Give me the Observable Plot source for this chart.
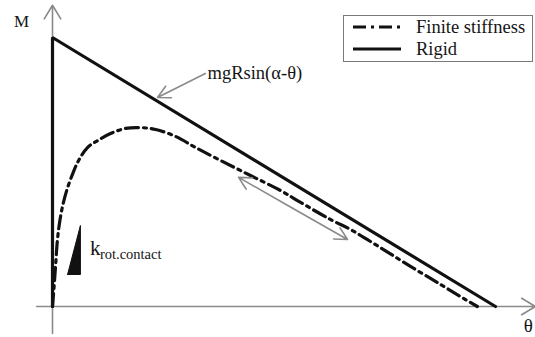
<!DOCTYPE html>
<html>
<head>
<meta charset="utf-8">
<script src="https://cdn.jsdelivr.net/npm/d3@7"></script>
<script src="https://cdn.jsdelivr.net/npm/@observablehq/plot@0.6"></script>
<style>
  html, body { margin: 0; padding: 0; background: #fff; }
  #wrap { position: relative; width: 535px; height: 337px; overflow: hidden; }
  #legend {
    position: absolute; left: 343px; top: 15px; width: 188px; height: 45px;
    border: 1.5px solid #7a7a7a; background: #fff;
    font-family: "Liberation Serif", "Times New Roman", Times, "DejaVu Serif", serif; font-size: 18.5px; color: #151515;
  }
  .row { position: absolute; left: 0; height: 22px; display: flex; align-items: center; }
  .row svg { margin-left: 9px; margin-right: 15px; }
  #wrap svg text { font-family: "Liberation Serif", "Times New Roman", Times, "DejaVu Serif", serif; }
</style>
</head>
<body>
<div id="wrap"><div id="legend"></div></div>
<script>
// θ normalised by α, M normalised by M at θ = 0
const seriesNames = ["Finite stiffness", "Rigid"];
const rigidTheta = [0, 0, 1];
const rigidM = [0, 1, 0];
const finiteTheta = [0, 0.002, 0.007, 0.011, 0.016, 0.023, 0.032, 0.045, 0.059, 0.079, 0.102, 0.131, 0.165, 0.199, 0.233, 0.278, 0.323, 0.379, 0.447, 0.515, 0.560, 0.628, 0.673, 0.740, 0.808, 0.876, 0.932, 0.959];
const finiteM = [0, 0.041, 0.152, 0.245, 0.312, 0.375, 0.431, 0.491, 0.543, 0.591, 0.617, 0.643, 0.662, 0.665, 0.658, 0.632, 0.591, 0.543, 0.487, 0.431, 0.387, 0.323, 0.286, 0.219, 0.149, 0.082, 0.026, 0];
// annotation anchors (data units)
const axisArrows = [
  {x1: 0, y1: -0.10, x2: 0, y2: 1.12},
  {x1: -0.036, y1: 0, x2: 1.09, y2: 0}
];
const labelArrow = [{x1: 0.345, y1: 0.866, x2: 0.237, y2: 0.777}];
const spanArrow = [
  {x1: 0.543, y1: 0.3645, x2: 0.420, y2: 0.480},
  {x1: 0.543, y1: 0.3645, x2: 0.666, y2: 0.249}
];
const stiffTriangleX = [0.034, 0.063, 0.063, 0.034];
const stiffTriangleY = [0.119, 0.119, 0.301, 0.119];
const labels = [
  {x: -0.07, y: 1.06, text: "M", size: 17, anchor: "middle"},
  {x: 1.074, y: -0.074, text: "θ", size: 19, anchor: "middle"},
  {x: 0.350, y: 0.866, text: "mgRsin(α-θ)", size: 18.5, anchor: "start"},
  {x: 0.0845, y: 0.215, text: "k", size: 21, anchor: "start"},
  {x: 0.107, y: 0.193, text: "rot.contact", size: 14.5, anchor: "start"}
];

const finite = finiteTheta.map((t, i) => ({theta: t, M: finiteM[i]}));
const rigid = rigidTheta.map((t, i) => ({theta: t, M: rigidM[i]}));
const tri = stiffTriangleX.map((t, i) => ({theta: t, M: stiffTriangleY[i]}));
const serif = '"Liberation Serif", "Times New Roman", Times, "DejaVu Serif", serif';

const chart = Plot.plot({
  width: 535, height: 337,
  marginLeft: 52, marginRight: 40, marginTop: 37, marginBottom: 31,
  x: {domain: [0, 1], axis: null},
  y: {domain: [0, 1], axis: null},
  style: {background: "transparent", overflow: "visible", fontFamily: serif},
  marks: [
    Plot.arrow(axisArrows, {x1: "x1", y1: "y1", x2: "x2", y2: "y2", stroke: "#8a8a8a", strokeWidth: 1.6, headLength: 15, headAngle: 62}),
    Plot.line(finite, {x: "theta", y: "M", stroke: "#111", strokeWidth: 3.2, strokeDasharray: "13,5,3,5", curve: "catmull-rom"}),
    Plot.line(rigid, {x: "theta", y: "M", stroke: "#111", strokeWidth: 3.2, strokeLinejoin: "miter"}),
    Plot.arrow(labelArrow, {x1: "x1", y1: "y1", x2: "x2", y2: "y2", stroke: "#8a8a8a", strokeWidth: 1.6, headLength: 13, headAngle: 55}),
    Plot.arrow(spanArrow, {x1: "x1", y1: "y1", x2: "x2", y2: "y2", stroke: "#8a8a8a", strokeWidth: 1.6, headLength: 13, headAngle: 55}),
    Plot.line(tri, {x: "theta", y: "M", fill: "#111", stroke: "#111", strokeWidth: 1}),
    Plot.text(labels, {x: "x", y: "y", text: "text", fontSize: d => d.size, textAnchor: "start", fontFamily: serif, fill: "#151515", lineAnchor: "middle", filter: d => d.anchor === "start"}),
    Plot.text(labels, {x: "x", y: "y", text: "text", fontSize: d => d.size, textAnchor: "middle", fontFamily: serif, fill: "#151515", lineAnchor: "middle", filter: d => d.anchor === "middle"})
  ]
});
document.getElementById("wrap").prepend(chart);

// legend
const legend = document.getElementById("legend");
const dashes = ["13,5,3,5", null];
seriesNames.forEach((name, i) => {
  const row = document.createElement("div");
  row.className = "row";
  row.style.top = (i * 22) + "px";
  const dash = dashes[i] ? `stroke-dasharray="${dashes[i]}"` : "";
  row.innerHTML = `<svg width="48" height="10"><line x1="0" y1="5" x2="48" y2="5" stroke="#111" stroke-width="3.2" ${dash}/></svg><span>${name}</span>`;
  legend.appendChild(row);
});
</script>
</body>
</html>
